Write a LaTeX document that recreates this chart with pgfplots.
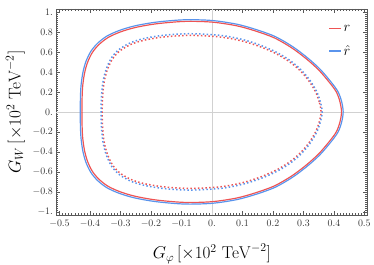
\documentclass[border=0pt]{standalone}
\usepackage{pgfplots}
\pgfplotsset{compat=1.18}
\definecolor{redc}{RGB}{238,84,84}
\definecolor{bluec}{RGB}{90,148,236}
\begin{document}
\begin{tikzpicture}
\begin{axis}[
  scale only axis, width=314pt, height=208pt,
  xmin=-0.51, xmax=0.51, ymin=-1.03, ymax=1.03,
  axis line style={black!65},
  tick align=inside, major tick length=4pt, minor tick length=2pt,
  tick style={black!65, line width=0.4pt},
  xtick={-0.5,-0.4,-0.3,-0.2,-0.1,0,0.1,0.2,0.3,0.4,0.5},
  xticklabels={$-0.5$,$-0.4$,$-0.3$,$-0.2$,$-0.1$,$0.$,$0.1$,$0.2$,$0.3$,$0.4$,$0.5$},
  ytick={-1,-0.8,-0.6,-0.4,-0.2,0,0.2,0.4,0.6,0.8,1},
  yticklabels={$-1.$,$-0.8$,$-0.6$,$-0.4$,$-0.2$,$0.$,$0.2$,$0.4$,$0.6$,$0.8$,$1.$},
  minor x tick num=9, minor y tick num=9,
  ticklabel style={font=\normalsize, text=black!80},
  xticklabel style={yshift=-1.5pt},
  extra x ticks={0}, extra y ticks={0},
  extra x tick labels={}, extra y tick labels={},
  extra tick style={grid=major, major grid style={black!18, line width=0.5pt}, tick style={draw=none}},
  xlabel={$G_\varphi\,[\times 10^2\ \mathrm{TeV}^{-2}]$},
  ylabel={$G_W\,[\times 10^2\ \mathrm{TeV}^{-2}]$},
  label style={font=\LARGE, inner sep=0pt},
  xlabel style={at={(axis description cs:0.5,-0.19)}, anchor=center},
  ylabel style={at={(axis description cs:-0.132,0.5)}, anchor=center},
  legend style={draw=none, fill=none, at={(axis description cs:0.874,0.933)}, anchor=north west,
    font=\Large, row sep=9pt, inner sep=0pt},
  legend cell align=left,
  legend image code/.code={\draw[#1] (0pt,0pt) -- (12pt,0pt);},
]
\addlegendimage{color=redc, line width=1.4pt}
\addlegendentry{$r$}
\addlegendimage{color=bluec, line width=1.4pt}
\addlegendentry{$\hat{r}$}
\addplot[redc, line width=1.2pt, smooth cycle, forget plot] coordinates {
(0.425,0) (0.420,0.100) (0.408,0.200) (0.384,0.300) (0.350,0.420) (0.310,0.530) (0.262,0.640) (0.205,0.740) (0.142,0.810) (0.080,0.862) (0.000,0.898) (-0.089,0.905) (-0.180,0.882) (-0.250,0.845) (-0.300,0.800) (-0.340,0.745) (-0.370,0.675) (-0.392,0.595) (-0.408,0.495) (-0.418,0.385) (-0.424,0.255) (-0.426,0.125) (-0.4265,0) (-0.426,-0.125) (-0.424,-0.255) (-0.418,-0.385) (-0.408,-0.495) (-0.392,-0.595) (-0.370,-0.675) (-0.340,-0.745) (-0.300,-0.800) (-0.250,-0.845) (-0.180,-0.882) (-0.089,-0.905) (0.000,-0.898) (0.080,-0.862) (0.142,-0.810) (0.205,-0.740) (0.262,-0.640) (0.310,-0.530) (0.350,-0.420) (0.384,-0.300) (0.408,-0.200) (0.420,-0.100)
};
\addplot[bluec, line width=1.2pt, smooth cycle, forget plot] coordinates {
(0.4305,0) (0.4255,0.1018) (0.4133,0.2036) (0.3890,0.3054) (0.3546,0.4276) (0.3140,0.5395) (0.2654,0.6515) (0.2077,0.7533) (0.1438,0.8246) (0.0810,0.8775) (0.0000,0.9142) (-0.0902,0.9213) (-0.1823,0.8979) (-0.2533,0.8602) (-0.3039,0.8144) (-0.3444,0.7584) (-0.3748,0.6872) (-0.3971,0.6057) (-0.4133,0.5039) (-0.4234,0.3919) (-0.4295,0.2596) (-0.4315,0.1273) (-0.4320,0) (-0.4315,-0.1273) (-0.4295,-0.2596) (-0.4234,-0.3919) (-0.4133,-0.5039) (-0.3971,-0.6057) (-0.3748,-0.6872) (-0.3444,-0.7584) (-0.3039,-0.8144) (-0.2533,-0.8602) (-0.1823,-0.8979) (-0.0902,-0.9213) (0.0000,-0.9142) (0.0810,-0.8775) (0.1438,-0.8246) (0.2077,-0.7533) (0.2654,-0.6515) (0.3140,-0.5395) (0.3546,-0.4276) (0.3890,-0.3054) (0.4133,-0.2036) (0.4255,-0.1018)
};
\addplot[redc, line width=1.5pt, dash pattern=on 1.5pt off 2.3pt, smooth cycle, forget plot] coordinates {
(0.358,0) (0.352,0.100) (0.340,0.200) (0.318,0.310) (0.290,0.410) (0.255,0.500) (0.212,0.580) (0.160,0.650) (0.100,0.708) (0.030,0.748) (-0.067,0.765) (-0.150,0.752) (-0.215,0.722) (-0.262,0.680) (-0.300,0.615) (-0.325,0.535) (-0.342,0.430) (-0.353,0.310) (-0.358,0.180) (-0.3595,0.080) (-0.360,0) (-0.3595,-0.080) (-0.358,-0.180) (-0.353,-0.310) (-0.342,-0.430) (-0.325,-0.535) (-0.300,-0.615) (-0.262,-0.680) (-0.215,-0.722) (-0.150,-0.752) (-0.067,-0.765) (0.030,-0.748) (0.100,-0.708) (0.160,-0.650) (0.212,-0.580) (0.255,-0.500) (0.290,-0.410) (0.318,-0.310) (0.340,-0.200) (0.352,-0.100)
};
\addplot[bluec, line width=1.5pt, dash pattern=on 1.5pt off 2.3pt, smooth cycle, forget plot] coordinates {
(0.3616,0) (0.3555,0.1022) (0.3434,0.2044) (0.3212,0.3168) (0.2929,0.4190) (0.2576,0.5110) (0.2141,0.5928) (0.1616,0.6643) (0.1010,0.7236) (0.0303,0.7645) (-0.0677,0.7818) (-0.1515,0.7685) (-0.2172,0.7379) (-0.2646,0.6950) (-0.3030,0.6285) (-0.3283,0.5468) (-0.3454,0.4395) (-0.3565,0.3168) (-0.3616,0.1840) (-0.3631,0.0818) (-0.3636,0) (-0.3631,-0.0818) (-0.3616,-0.1840) (-0.3565,-0.3168) (-0.3454,-0.4395) (-0.3283,-0.5468) (-0.3030,-0.6285) (-0.2646,-0.6950) (-0.2172,-0.7379) (-0.1515,-0.7685) (-0.0677,-0.7818) (0.0303,-0.7645) (0.1010,-0.7236) (0.1616,-0.6643) (0.2141,-0.5928) (0.2576,-0.5110) (0.2929,-0.4190) (0.3212,-0.3168) (0.3434,-0.2044) (0.3555,-0.1022)
};
\end{axis}
\path ([xshift=-57pt,yshift=9pt]current axis.north west);
\path ([xshift=3pt,yshift=-50pt]current axis.south east);
\end{tikzpicture}
\end{document}
